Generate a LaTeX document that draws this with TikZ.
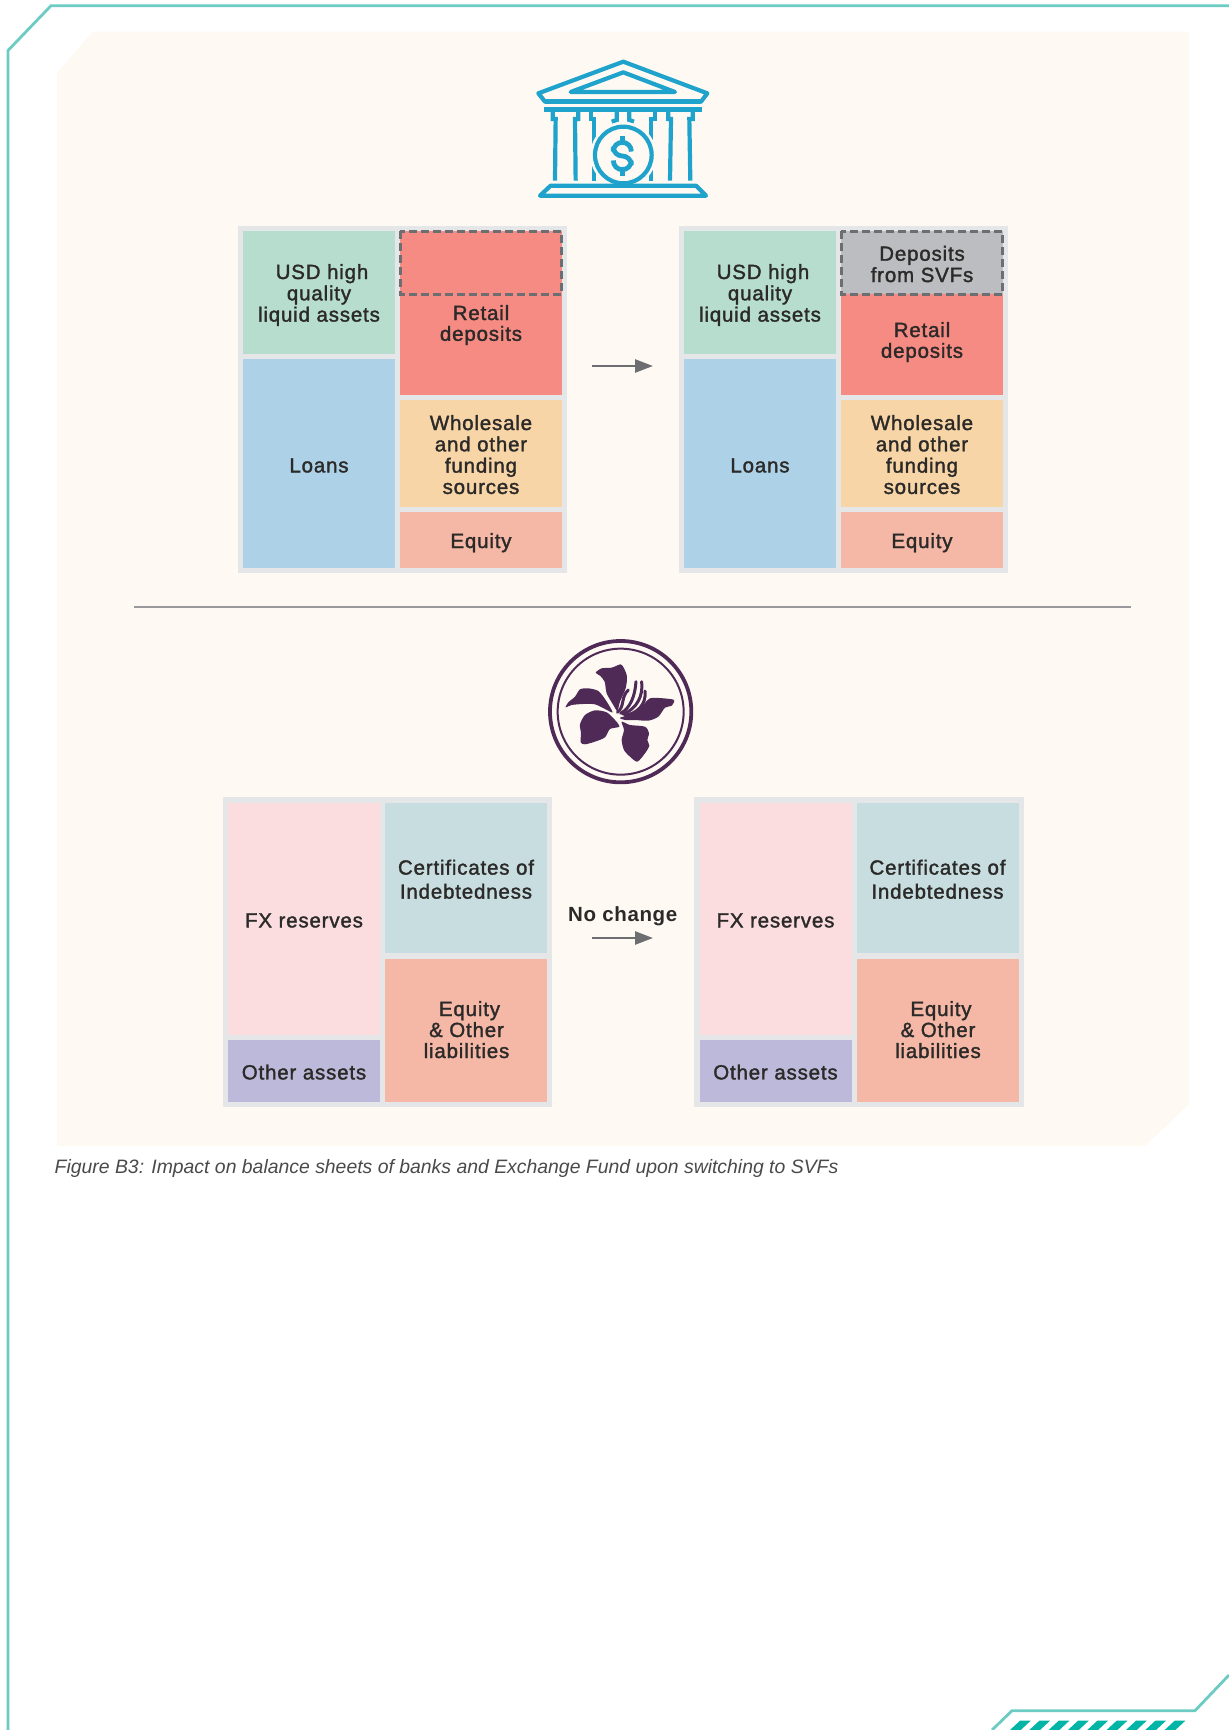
\documentclass[tikz,border=0pt]{standalone}
\usepackage{fontspec}
\usetikzlibrary{arrows.meta}
\newfontfamily\labfont[LetterSpace=4,FakeBold=1.6]{Liberation Sans}
\newfontfamily\boldfont[LetterSpace=3]{Liberation Sans Bold}
\newfontfamily\capfont{Liberation Sans Italic}
\definecolor{cframe}{HTML}{6CCBC3}
\definecolor{cstripe}{HTML}{00B5A6}
\definecolor{cpanel}{HTML}{FEFAF3}
\definecolor{cgrey}{HTML}{E5E6E7}
\definecolor{cgreen}{HTML}{B6DDCD}
\definecolor{cblue}{HTML}{ADD1E6}
\definecolor{cred}{HTML}{F68B83}
\definecolor{corange}{HTML}{F8D5A6}
\definecolor{csalmon}{HTML}{F5B8A6}
\definecolor{cpink}{HTML}{FBDDE0}
\definecolor{cpurple}{HTML}{BDB9DA}
\definecolor{cpale}{HTML}{C8DDE0}
\definecolor{csvf}{HTML}{BCBDC0}
\definecolor{carrow}{HTML}{6D6E71}
\definecolor{cicon}{HTML}{1FA3CC}
\definecolor{cflower}{HTML}{4F2A57}
\definecolor{ctext}{HTML}{2B2A29}
\tikzset{
  cell/.style={inner sep=0pt,outer sep=0pt,draw=none},
  lab/.style={inner sep=0pt,outer sep=0pt,anchor=base,text=ctext,font=\labfont\fontsize{20.5}{21}\selectfont},
  flowarrow/.style={draw=carrow,line width=2.5pt,-{Triangle[length=18pt,width=13pt]}},
  dashbox/.style={draw=carrow,line width=3pt,dash pattern=on 8pt off 4pt},
  bankline/.style={draw=cicon,line width=4.2pt,line join=round},
  petal/.style={fill=cflower,draw=none},
  stamen/.style={draw=cflower,line width=3pt,line cap=round}
}
\newcommand\bx[6]{\pgfmathsetmacro\cellw{#4-#2}\pgfmathsetmacro\cellh{#5-#3}%
  \node[cell,fill=#6,minimum width=\cellw pt,minimum height=\cellh pt] (#1) at ({(#2+#4)/2},{(#3+#5)/2}) {};}
% name, x, first baseline, line distance, text (lines ended by \cr)
\newcommand\lb[5]{\node[lab] (#1) at (#2,#3) {\vtop{\baselineskip=#4pt\lineskiplimit=-100pt\halign{\hfil##\hfil\cr#5\cr}}};}
\newcommand\banksheet[2]{%
  \bx{#1outer}{238}{226}{567}{573}{cgrey}
  \bx{#1green}{243}{231}{394.5}{354}{cgreen}
  \bx{#1blue}{243}{359}{394.5}{568}{cblue}
  \bx{#1red}{400}{231}{562}{394.5}{cred}
  \bx{#1orange}{400}{400}{562}{507}{corange}
  \bx{#1equity}{400}{512}{562}{568}{csalmon}
  \lb{#1tgreen}{319}{279}{21.3}{\hspace*{6pt}USD high\cr quality\cr liquid assets}
  \lb{#1tblue}{319}{472.4}{21.3}{Loans}
  \lb{#1tred}{481}{#2}{20.8}{Retail\cr deposits}
  \lb{#1torange}{481}{430}{21.3}{Wholesale\cr and other\cr funding\cr sources}
  \lb{#1tequity}{481}{548}{21.3}{Equity}
}
\newcommand\efsheet[1]{%
  \bx{#1outer}{222.7}{797.3}{552}{1107}{cgrey}
  \bx{#1pink}{228}{803}{380}{1035}{cpink}
  \bx{#1purple}{228}{1040}{380}{1102}{cpurple}
  \bx{#1pale}{385}{803}{547}{953}{cpale}
  \bx{#1salmon}{385}{959}{547}{1102}{csalmon}
  \lb{#1tpink}{304}{927.4}{21}{FX reserves}
  \lb{#1tpurple}{304}{1079.4}{21}{Other assets}
  \lb{#1tpale}{466}{874.6}{24}{Certificates of\cr Indebtedness}
  \lb{#1tsalmon}{466.5}{1016}{21}{\hspace*{6pt}Equity\cr \& Other\cr liabilities}
}
\begin{document}
\begin{tikzpicture}[x=1pt,y=-1pt]
\useasboundingbox (0,0) rectangle (1229,1730);
\fill[white] (0,0) rectangle (1229,1730);
% frame
\draw[cframe,line width=2.8pt,line join=miter] (8,1730) -- (8,50.5) -- (51,5.7) -- (1229,5.7);
\draw[cframe,line width=2.8pt] (992,1730) -- (1012,1710.7) -- (1195,1710.7) -- (1229,1675);
\foreach \i in {0,...,8}{
  \fill[cstripe] ({1010+\i*19.33},1730) -- ({1020+\i*19.33},1720.7) -- ({1030.7+\i*19.33},1720.7) -- ({1020.7+\i*19.33},1730) -- cycle;
}
% panel
\fill[cpanel] (93,31.5) -- (1189,31.5) -- (1189,1104) -- (1145,1146) -- (57,1146) -- (57,73) -- cycle;

% bank icon
\begin{scope}[x=0.33333pt,y=-0.33333pt,shift={(1500,120)}]
  \path[bankline] (370,65) -- (622,160) -- (603,185) -- (135,185) -- (115,160) -- cycle;
  \fill[cicon] (135,178) rectangle (603,192);
  \path[bankline] (370,97) -- (525,156) -- (212,156) -- cycle;
  \fill[cicon] (132,201) rectangle (606,215);
  \path[bankline,line join=miter] (158,215) -- (158,237) -- (167,237) -- (165,422);
  \path[bankline,line join=miter] (235,215) -- (235,237) -- (225,237) -- (227,422);
  \path[bankline,line join=miter] (272,215) -- (272,237) -- (283,237) -- (283,422);
  \path[bankline,line join=miter] (350,215) -- (350,240) -- (335,245);
  \path[bankline,line join=miter] (388,215) -- (388,240) -- (402,245);
  \path[bankline,line join=miter] (464,215) -- (464,237) -- (453,237) -- (453,422);
  \path[bankline,line join=miter] (505,215) -- (505,237) -- (513,237) -- (510,422);
  \path[bankline,line join=miter] (578,215) -- (578,237) -- (568,237) -- (571,422);
  \fill[cpanel] (370,345) circle (99);
  \path[bankline] (370,345) circle (85);
  \path[bankline] (152,437) -- (588,437) -- (618,467) -- (120,467) -- cycle;
  \fill[cicon] (148,432) rectangle (592,440);
  \path[draw=cicon,line width=4.8pt,rounded corners=9pt] (394,334) -- (394,307) -- (340,307) -- (340,348) -- (394,348) -- (394,389) -- (340,389) -- (340,363);
  \path[draw=cicon,line width=5pt] (368,288) -- (368,302) (368,394) -- (368,408);
\end{scope}

\banksheet{a}{320}
\draw[dashbox] (400,231) rectangle (561.5,294);
\begin{scope}[xshift=441pt]
  \banksheet{b}{337}
  \bx{bsvf}{400}{231}{562}{294}{csvf}
  \draw[dashbox] (400,231) rectangle (561.5,294);
  \lb{bdep}{481}{260.7}{21.3}{Deposits\cr from SVFs}
\end{scope}
\coordinate (ar1s) at (592,366);
\coordinate (ar1e) at (653,366);
\draw[flowarrow] (ar1s) -- (ar1e);

% divider
\coordinate (divl) at (134,607);
\coordinate (divr) at (1131,607);
\draw[color=carrow!70,line width=1.5pt] (divl) -- (divr);

% flower icon
\begin{scope}[x=0.33333pt,y=-0.33333pt,shift={(1590,1875)}]
  \draw[cflower,line width=3.8pt] (272,260) circle (212);
  \draw[cflower,line width=2pt] (272,260) circle (189);
  \fill[petal] plot[smooth cycle,tension=0.45] coordinates {(197,143) (215,130) (245,128) (272,118) (282,130) (291,155) (287,190) (270,230) (262,258) (250,240) (230,205) (224,170) (210,152)};
  \fill[petal] plot[smooth cycle,tension=0.45] coordinates {(107,247) (115,232) (135,215) (150,193) (175,190) (205,198) (227,225) (248,262) (225,252) (195,238) (160,237) (125,240)};
  \fill[petal] plot[smooth cycle,tension=0.45] coordinates {(150,298) (165,270) (195,256) (230,262) (255,285) (268,305) (240,312) (225,337) (195,350) (165,358) (152,352) (153,325)};
  \fill[petal] plot[smooth cycle,tension=0.45] coordinates {(275,290) (300,300) (345,305) (357,325) (352,345) (358,362) (345,385) (322,410) (300,395) (282,375) (275,345) (282,315)};
  \fill[petal] plot[smooth cycle,tension=0.45] coordinates {(270,278) (310,267) (335,245) (360,220) (400,220) (432,225) (425,242) (405,248) (385,275) (355,287) (315,285) (285,285)};
  \draw[stamen] (262,262) .. controls (285,245) and (272,215) .. (295,195);
  \draw[stamen] (272,265) .. controls (300,250) and (315,215) .. (318,170);
  \draw[stamen] (280,268) .. controls (320,250) and (340,215) .. (335,170);
  \draw[stamen] (285,272) .. controls (320,265) and (350,240) .. (345,198);
\end{scope}

\efsheet{c}
\begin{scope}[xshift=471.5pt]
  \efsheet{d}
\end{scope}
\node[inner sep=0pt,anchor=base,text=ctext,font=\boldfont\fontsize{20.5}{21}\selectfont] (nochange) at (622.7,921.5) {No change};
\coordinate (ar2s) at (592,938);
\coordinate (ar2e) at (653,938);
\draw[flowarrow] (ar2s) -- (ar2e);

% caption
\node[inner sep=0pt,anchor=base west,text=ctext!85,font=\capfont\fontsize{19.4}{21}\selectfont] (caption) at (54.5,1173.5) {Figure B3: Impact on balance sheets of banks and Exchange Fund upon switching to SVFs};
\end{tikzpicture}
\end{document}
